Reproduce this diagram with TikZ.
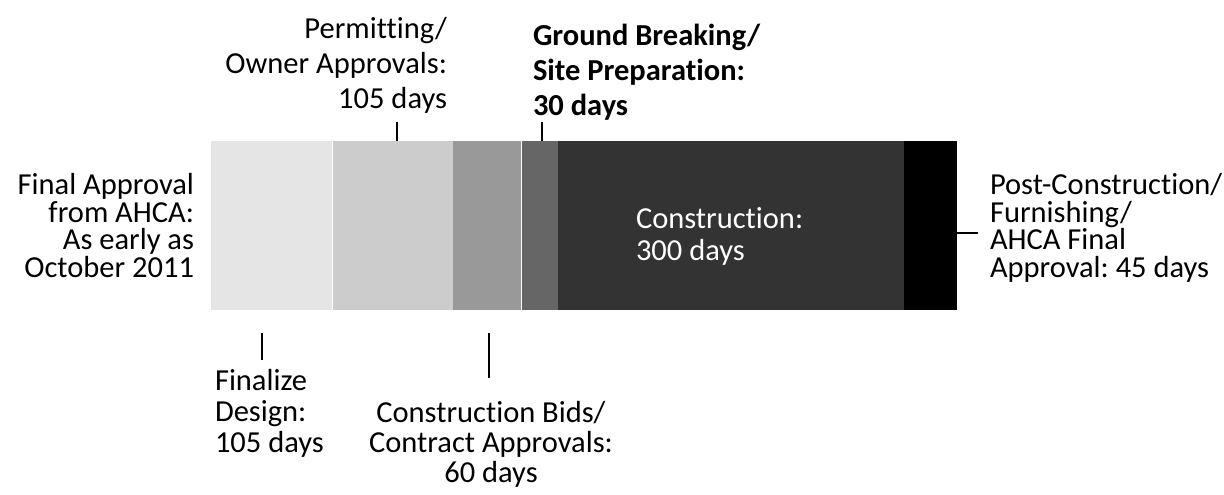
\documentclass[tikz,border=0pt]{standalone}
\usepackage{fontspec}
\setmainfont{Carlito}[Ligatures=NoCommon]
\frenchspacing
\definecolor{cA}{HTML}{E5E5E5}
\definecolor{cB}{HTML}{CCCCCC}
\definecolor{cC}{HTML}{999999}
\definecolor{cD}{HTML}{666666}
\definecolor{cE}{HTML}{333333}
\definecolor{cF}{HTML}{000000}
\tikzset{
  lbl/.style={inner sep=0pt, outer sep=0pt, text=black},
  tick/.style={draw=black, line width=1.8pt},
  sep/.style={draw=white, line width=1.4pt},
}
\begin{document}
\begin{tikzpicture}[x=1pt,y=-1pt]
\useasboundingbox (0,0) rectangle (1224,495);
% bar segments
\fill[cA] (211,141) rectangle (333,310);
\fill[cB] (333,141) rectangle (453,310);
\fill[cC] (453,141) rectangle (521,310);
\fill[cD] (521,141) rectangle (558,310);
\fill[cE] (558,141) rectangle (904,310);
\fill[cF] (904,141) rectangle (957,310);
\draw[sep] (332.5,141) -- (332.5,310);
\draw[sep] (521.5,141) -- (521.5,310);
% ticks
\coordinate (tP) at (397,141); \coordinate (tPe) at (397,122);
\coordinate (tG) at (542,141); \coordinate (tGe) at (542,122);
\coordinate (tF) at (262,333); \coordinate (tFe) at (262,360);
\coordinate (tC) at (489,333); \coordinate (tCe) at (489,378);
\coordinate (tR) at (957,233); \coordinate (tRe) at (978,233);
\draw[tick] (tP) -- (tPe);
\draw[tick] (tG) -- (tGe);
\draw[tick] (tF) -- (tFe);
\draw[tick] (tC) -- (tCe);
\draw[tick] (tR) -- (tRe);
% labels (base anchor = baseline of last line)
\node[lbl, align=right, anchor=base east, font={\fontsize{30.5}{27.4}\selectfont}] (left) at (194,277)
  {Final Approval\\from AHCA:\\As early as\\October 2011};
\node[lbl, align=right, anchor=base east, font={\fontsize{30.5}{35}\selectfont}] (permit) at (447,108)
  {Permitting/\\Owner Approvals:\\105 days};
\node[lbl, align=left, anchor=base west, font={\fontsize{30.5}{35}\selectfont\bfseries}] (ground) at (533,115)
  {Ground Breaking/\\Site Preparation:\\30 days};
\node[lbl, align=left, anchor=base west, font={\fontsize{30.5}{31}\selectfont}] (final) at (215,452)
  {Finalize\\Design:\\105 days};
\node[lbl, align=center, anchor=base, font={\fontsize{30.5}{30}\selectfont}] (bids) at (491,482)
  {Construction Bids/\\Contract Approvals:\\60 days};
\node[lbl, align=left, anchor=base west, text=white, font={\fontsize{30.5}{32}\selectfont}] (constr) at (636,260)
  {Construction:\\300 days};
\node[lbl, align=left, anchor=base west, font={\fontsize{30.5}{27.4}\selectfont}] (post) at (990,277)
  {Post-Construction/\\Furnishing/\\AHCA Final\\Approval: 45 days};
\end{tikzpicture}
\end{document}
